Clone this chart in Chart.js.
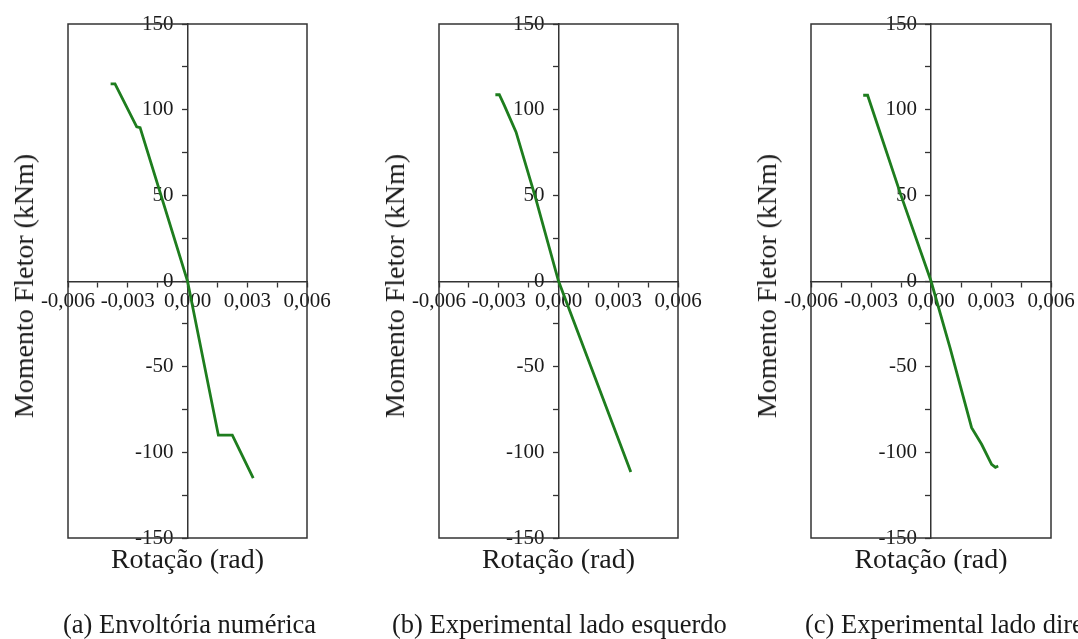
<!DOCTYPE html>
<html>
<head>
<meta charset="utf-8">
<script src="https://cdn.jsdelivr.net/npm/chart.js@4"></script>
<style>
  body { margin: 0; width: 1078px; height: 639px; overflow: hidden; background: #fff; position: relative;
         font-family: 'Liberation Serif', 'Times New Roman', serif; color: #1a1a1a; }
  canvas { position: absolute; top: 0; }
  .ytitle, .xtitle, .caption { position: absolute; white-space: nowrap; line-height: 1; }
  .ytitle { font-size: 28px; top: 286px; transform: translate(-50%, -50%) rotate(-90deg); }
  .xtitle { font-size: 28px; top: 545px; transform: translateX(-50%); }
  .caption { font-size: 26.5px; top: 611px; }
</style>
</head>
<body>
<script>
// eixos (comuns aos três gráficos)
const xTicks = [-0.006, -0.0045, -0.003, -0.0015, 0, 0.0015, 0.003, 0.0045, 0.006];
const xTickLabels = ['-0,006', '', '-0,003', '', '0,000', '', '0,003', '', '0,006'];
const yTicks = [-150, -125, -100, -75, -50, -25, 0, 25, 50, 75, 100, 125, 150];
const yTickLabels = ['-150', '', '-100', '', '-50', '', '0', '', '50', '', '100', '', '150'];

// (a) Envoltória numérica
const numRot = [-0.00386, -0.00364, -0.00255, -0.00238, 0, 0.00155, 0.00225, 0.0033];
const numMom = [115, 115, 90, 89.5, 0, -90, -90, -115];

// (b) Experimental lado esquerdo
const esqRot = [-0.00317, -0.00297, -0.00272, -0.00213, -0.00117, 0, 0.00162, 0.00363];
const esqMom = [108.7, 108.7, 102.5, 86.9, 49.3, 0, -49.7, -111.5];

// (c) Experimental lado direito
const dirRot = [-0.00339, -0.00317, -0.0015, 0, 0.00095, 0.00203, 0.00253, 0.00303, 0.00322, 0.00336];
const dirMom = [108.4, 108.4, 50, 0, -38.9, -85.6, -95.3, -107, -108.8, -108];

const framePlugin = {
  id: 'frame',
  beforeDatasetsDraw(chart) {
    const {ctx, chartArea: a} = chart
    ctx.save()
    ctx.strokeStyle = '#333'
    ctx.lineWidth = 1.5
    ctx.strokeRect(a.left, a.top, a.right - a.left, a.bottom - a.top)
    ctx.restore()
  }
}

const tickFont = { family: "'Liberation Serif', 'Times New Roman', serif", size: 21 }

const makePanel = (left, width, padLeft, padRight, rot, mom, caption, captionLeft) => {
  const canvas = document.createElement('canvas')
  canvas.width = width
  canvas.height = 639
  canvas.style.left = left + 'px'
  document.body.appendChild(canvas)

  new Chart(canvas, {
    type: 'scatter',
    data: {
      datasets: [{
        data: rot.map((x, i) => ({ x: x, y: mom[i] })),
        showLine: true,
        borderColor: '#1e7d1e',
        borderWidth: 2.8,
        pointRadius: 0,
        tension: 0
      }]
    },
    options: {
      responsive: false,
      animation: false,
      events: [],
      layout: { padding: { left: padLeft, right: padRight, top: 24, bottom: 101 } },
      plugins: { legend: { display: false }, tooltip: { enabled: false } },
      scales: {
        x: {
          type: 'linear',
          position: 'center',
          min: -0.006,
          max: 0.006,
          afterBuildTicks: (scale) => { scale.ticks = xTicks.map(v => ({ value: v })) },
          grid: { drawOnChartArea: false, drawTicks: true, tickLength: 5, color: '#333', tickWidth: 1.3 },
          border: { display: true, color: '#333', width: 1.5 },
          ticks: {
            autoSkip: false, maxRotation: 0, minRotation: 0, padding: 3,
            color: '#1a1a1a', font: tickFont,
            callback: (v, i) => xTickLabels[i]
          }
        },
        y: {
          type: 'linear',
          position: 'center',
          min: -150,
          max: 150,
          afterBuildTicks: (scale) => { scale.ticks = yTicks.map(v => ({ value: v })) },
          grid: { drawOnChartArea: false, drawTicks: true, tickLength: 5, color: '#333', tickWidth: 1.3 },
          border: { display: true, color: '#333', width: 1.5 },
          ticks: {
            autoSkip: false, padding: 9,
            color: '#1a1a1a', font: tickFont,
            callback: (v, i) => yTickLabels[i]
          }
        }
      }
    },
    plugins: [framePlugin]
  })

  const areaLeft = left + padLeft
  const areaRight = left + width - padRight

  const yTitle = document.createElement('div')
  yTitle.className = 'ytitle'
  yTitle.textContent = 'Momento Fletor (kNm)'
  yTitle.style.left = (areaLeft - 44.5) + 'px'
  document.body.appendChild(yTitle)

  const xTitle = document.createElement('div')
  xTitle.className = 'xtitle'
  xTitle.textContent = 'Rotação (rad)'
  xTitle.style.left = ((areaLeft + areaRight) / 2) + 'px'
  document.body.appendChild(xTitle)

  const cap = document.createElement('div')
  cap.className = 'caption'
  cap.textContent = caption
  cap.style.left = captionLeft + 'px'
  document.body.appendChild(cap)
}

makePanel(0, 359, 68, 52, numRot, numMom, '(a) Envoltória numérica', 63)
makePanel(359, 360, 80, 41, esqRot, esqMom, '(b) Experimental lado esquerdo', 392)
makePanel(719, 359, 92, 27, dirRot, dirMom, '(c) Experimental lado direito', 805)
</script>
</body>
</html>
